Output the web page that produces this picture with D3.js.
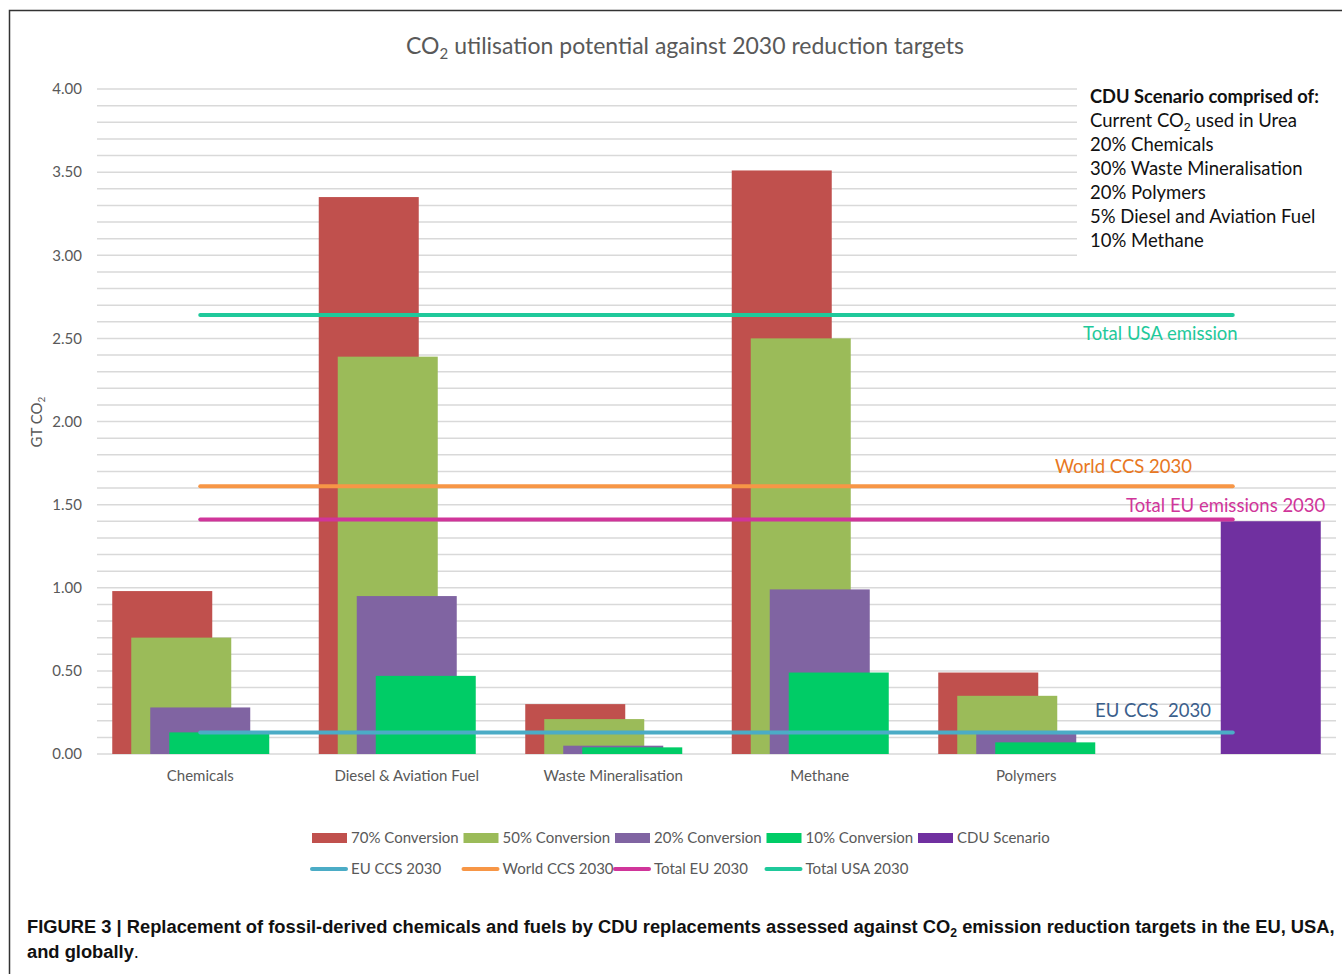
<!DOCTYPE html>
<html>
<head>
<meta charset="utf-8">
<script src="https://cdn.jsdelivr.net/npm/d3@7"></script>
<style>
  body { margin: 0; background: #fff; }
  text { font-family: Lato, "Open Sans", sans-serif; }
</style>
</head>
<body>
<div id="chart"></div>
<script>
// categories along the x axis (last slot holds the CDU scenario bar)
const categories = [
  "Chemicals",
  "Diesel & Aviation Fuel",
  "Waste Mineralisation",
  "Methane",
  "Polymers",
  "",
];

// bar series, GT CO2
const seriesNames = [
  "70% Conversion",
  "50% Conversion",
  "20% Conversion",
  "10% Conversion",
  "CDU Scenario",
];
const conv70 = [0.98, 3.35, 0.30, 3.51, 0.49, null];
const conv50 = [0.70, 2.39, 0.21, 2.50, 0.35, null];
const conv20 = [0.28, 0.95, 0.05, 0.99, 0.12, null];
const conv10 = [0.13, 0.47, 0.04, 0.49, 0.07, null];
const cduScenario = [null, null, null, null, null, 1.40];

// reference lines, GT CO2
const lineNames = ["EU CCS 2030", "World CCS 2030", "Total EU 2030", "Total USA 2030"];
const lineValues = [0.13, 1.61, 1.41, 2.64];

// y ticks
const yTicks = [0, 0.5, 1, 1.5, 2, 2.5, 3, 3.5, 4];

// scenario text box
const scenarioLines = [
  "20% Chemicals",
  "30% Waste Mineralisation",
  "20% Polymers",
  "5% Diesel and Aviation Fuel",
  "10% Methane",
];

const barColors = ["#c0504d", "#9bbb59", "#8064a2", "#00cc66", "#7030a0"];
const lineColors = ["#4bacc6", "#f79646", "#d0359a", "#1fc99b"];
const grey = "#595959";

const width = 1342;
const height = 974;

const svg = d3
  .select("#chart")
  .append("svg")
  .attr("width", width)
  .attr("height", height);

svg.append("rect").attr("width", width).attr("height", height).attr("fill", "#fff");

// figure frame (left and top edges)
svg
  .append("path")
  .attr("d", `M9.5,${height} V10.5 H${width}`)
  .attr("fill", "none")
  .attr("stroke", "#333")
  .attr("stroke-width", 1.5);

// scales
const x = d3.scaleBand().domain(d3.range(categories.length)).range([97, 1336]).padding(0);
const y = d3.scaleLinear().domain([0, 4]).range([754, 89]);

// minor gridlines every 0.1
svg
  .append("g")
  .selectAll("line")
  .data(d3.range(0, 41).map((d) => d / 10))
  .join("line")
  .attr("x1", 97)
  .attr("x2", 1336)
  .attr("y1", (d) => y(d))
  .attr("y2", (d) => y(d))
  .attr("stroke", "#d9d9d9")
  .attr("stroke-width", 1.5);

// y axis labels
const yaxis = d3.axisLeft(y).tickValues(yTicks).tickFormat(d3.format(".2f")).tickSize(0).tickPadding(15);
const yg = svg.append("g").attr("transform", "translate(97,0)").call(yaxis);
yg.select(".domain").remove();
yg.selectAll("text").attr("font-size", 15).attr("fill", grey).attr("font-family", "Lato, sans-serif");

// x axis labels
const xaxis = d3.axisBottom(x).tickFormat((i) => categories[i]).tickSize(0).tickPadding(16);
const xg = svg.append("g").attr("transform", "translate(0,754)").call(xaxis);
xg.select(".domain").remove();
xg.selectAll("text").attr("font-size", 15).attr("fill", grey).attr("font-family", "Lato, sans-serif");

// bars: overlapping clustered columns
const allSeries = [conv70, conv50, conv20, conv10, cduScenario];
const barWidth = 100;
const step = 19;
const clusterOffset = x.bandwidth() / 2 - (barWidth + step * (allSeries.length - 1)) / 2;

const barGroup = svg.append("g").attr("class", "bars");
allSeries.forEach((values, s) => {
  barGroup
    .append("g")
    .selectAll("rect")
    .data(values.map((v, i) => ({ v, i })).filter((d) => d.v !== null))
    .join("rect")
    .attr("x", (d) => x(d.i) + clusterOffset + s * step)
    .attr("y", (d) => y(d.v))
    .attr("width", barWidth)
    .attr("height", (d) => y(0) - y(d.v))
    .attr("fill", barColors[s]);
});

// reference lines across categories
lineValues.forEach((v, k) => {
  svg
    .append("path")
    .datum(d3.range(categories.length))
    .attr("d", d3.line().x((d) => x(d) + x.bandwidth() / 2).y(() => y(v)))
    .attr("fill", "none")
    .attr("stroke", lineColors[k])
    .attr("stroke-width", 4)
    .attr("stroke-linecap", "round");
});

// line annotations
const notes = [
  { text: "Total USA emission", color: "#1fc99b", x: 1083, y: y(lineValues[3]) + 25 },
  { text: "World CCS 2030", color: "#e87722", x: 1055, y: y(lineValues[1]) - 13 },
  { text: "Total EU emissions 2030", color: "#d0359a", x: 1126, y: y(lineValues[2]) - 8 },
  { text: "EU CCS  2030", color: "#3b5f8c", x: 1095, y: y(lineValues[0]) - 15 },
];
svg
  .append("g")
  .selectAll("text")
  .data(notes)
  .join("text")
  .attr("x", (d) => d.x)
  .attr("y", (d) => d.y)
  .attr("font-size", 18.5)
  .attr("fill", (d) => d.color)
  .style("white-space", "pre")
  .text((d) => d.text);

// scenario text box
const box = svg.append("g");
box.append("rect").attr("x", 1077).attr("y", 80).attr("width", 259).attr("height", 184).attr("fill", "#fff");
box
  .append("text")
  .attr("x", 1090)
  .attr("y", 103)
  .attr("font-size", 18.3)
  .attr("font-weight", "bold")
  .attr("fill", "#111")
  .text("CDU Scenario comprised of:");
const urea = box.append("text").attr("x", 1090).attr("y", 127).attr("font-size", 18.5).attr("fill", "#111");
urea.append("tspan").text("Current CO");
urea.append("tspan").attr("font-size", 12).attr("dy", 4).text("2");
urea.append("tspan").attr("dy", -4).text(" used in Urea");
box
  .selectAll("text.line")
  .data(scenarioLines)
  .join("text")
  .attr("class", "line")
  .attr("x", 1090)
  .attr("y", (d, i) => 151 + i * 24)
  .attr("font-size", 18.5)
  .attr("fill", "#111")
  .text((d) => d);

// title
const title = svg
  .append("text")
  .attr("x", 685)
  .attr("y", 54)
  .attr("text-anchor", "middle")
  .attr("font-size", 23)
  .attr("fill", grey);
title.append("tspan").text("CO");
title.append("tspan").attr("font-size", 15).attr("dy", 5).text("2");
title.append("tspan").attr("dy", -5).text(" utilisation potential against 2030 reduction targets");

// y axis title
const ylab = svg
  .append("text")
  .attr("transform", "translate(42,422) rotate(-90)")
  .attr("text-anchor", "middle")
  .attr("font-size", 15)
  .attr("fill", grey);
ylab.append("tspan").text("GT CO");
ylab.append("tspan").attr("font-size", 10).attr("dy", 3).text("2");

// legend
const legend = svg.append("g").attr("font-size", 15).attr("fill", grey);
seriesNames.forEach((name, i) => {
  const lx = 312 + i * 151.5;
  legend.append("rect").attr("x", lx).attr("y", 833).attr("width", 35).attr("height", 10).attr("fill", barColors[i]);
  legend.append("text").attr("x", lx + 39).attr("y", 843).text(name);
});
lineNames.forEach((name, i) => {
  const lx = 312 + i * 151.5;
  legend
    .append("line")
    .attr("x1", lx)
    .attr("x2", lx + 34)
    .attr("y1", 869)
    .attr("y2", 869)
    .attr("stroke", lineColors[i])
    .attr("stroke-width", 4)
    .attr("stroke-linecap", "round");
  legend.append("text").attr("x", lx + 39).attr("y", 874).text(name);
});

// caption
const cap = svg
  .append("text")
  .attr("x", 27)
  .attr("y", 933)
  .attr("font-size", 18)
  .attr("font-weight", "bold")
  .attr("fill", "#111")
  .style("font-family", "'Liberation Sans Narrow', 'Liberation Sans', Arial, sans-serif");
cap.append("tspan").text("FIGURE 3 | Replacement of fossil-derived chemicals and fuels by CDU replacements assessed against CO");
cap.append("tspan").attr("font-size", 12).attr("dy", 4).text("2");
cap.append("tspan").attr("dy", -4).text(" emission reduction targets in the EU, USA,");
const capW = cap.node().getBBox().width;
cap.attr("transform", `translate(27,0) scale(${1308 / capW},1) translate(-27,0)`);

const cap2 = svg
  .append("text")
  .attr("x", 27)
  .attr("y", 958)
  .attr("font-size", 18)
  .attr("fill", "#111")
  .style("font-family", "'Liberation Sans Narrow', 'Liberation Sans', Arial, sans-serif");
cap2.append("tspan").attr("font-weight", "bold").text("and globally");
cap2.append("tspan").text(".");
cap2.attr("transform", `translate(27,0) scale(${1308 / capW},1) translate(-27,0)`);
</script>
</body>
</html>
